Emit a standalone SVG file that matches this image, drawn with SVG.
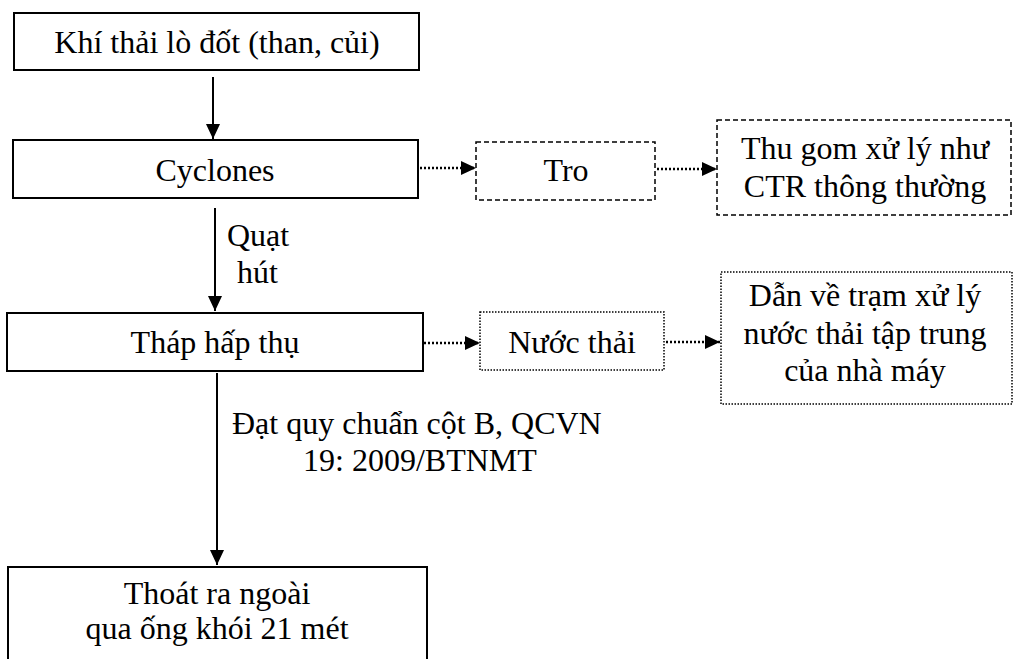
<svg xmlns="http://www.w3.org/2000/svg" width="1014" height="659" viewBox="0 0 1014 659">
<defs>
<marker id="ah" markerWidth="15" markerHeight="14" refX="15" refY="7" orient="auto" markerUnits="userSpaceOnUse">
<path d="M0,0 L15,7 L0,14 Z" fill="#000"/>
</marker>
<style>
text{font-family:"Liberation Serif","Times New Roman",serif;font-size:32px;fill:#000;text-anchor:middle}
.lbl{text-anchor:start}
.solid{fill:#fff;stroke:#000;stroke-width:2}
.dash{fill:#fff;stroke:#000;stroke-width:1.5;stroke-dasharray:5,3}
.dot{fill:#fff;stroke:#000;stroke-width:1.5;stroke-dasharray:1.5,1.5}
.c{stroke:#000;stroke-width:2;fill:none;marker-end:url(#ah)}
.cd{stroke:#000;stroke-width:2.5;fill:none;stroke-dasharray:2,2;marker-end:url(#ah)}
</style>
</defs>
<g id="connectors">
<line class="c" x1="213" y1="77" x2="213" y2="139"/>
<line class="c" x1="215" y1="208" x2="215" y2="311"/>
<line class="c" x1="217" y1="373" x2="217" y2="565"/>
<line class="cd" x1="420" y1="168" x2="476" y2="168"/>
<line class="cd" x1="657" y1="169" x2="717" y2="169"/>
<line class="cd" x1="424" y1="343" x2="480" y2="343"/>
<line class="cd" x1="666" y1="342" x2="720" y2="342"/>
<text class="lbl" x="227" y="246">Quạt</text>
<text class="lbl" x="237" y="283">hút</text>
<text class="lbl" x="232" y="434">Đạt quy chuẩn cột B, QCVN</text>
<text class="lbl" x="303" y="471">19: 2009/BTNMT</text>
</g>
<g id="n1">
<rect class="solid" x="14" y="13" width="405" height="57"/>
<text x="217" y="53">Khí thải lò đốt (than, củi)</text>
</g>
<g id="n2">
<rect class="solid" x="13" y="140" width="405" height="58"/>
<text x="215" y="181">Cyclones</text>
</g>
<g id="n3">
<rect class="dash" x="476" y="142" width="179" height="58"/>
<text x="566" y="181">Tro</text>
</g>
<g id="n4">
<rect class="dash" x="717" y="120" width="294" height="95"/>
<text x="865" y="159">Thu gom xử lý như</text>
<text x="865" y="197">CTR thông thường</text>
</g>
<g id="n5">
<rect class="solid" x="7" y="313" width="416" height="58"/>
<text x="215" y="353">Tháp hấp thụ</text>
</g>
<g id="n6">
<rect class="dot" x="480" y="312" width="184" height="58"/>
<text x="572" y="353">Nước thải</text>
</g>
<g id="n7">
<rect class="dot" x="721" y="272" width="291" height="132"/>
<text x="865" y="306">Dẫn về trạm xử lý</text>
<text x="865" y="344">nước thải tập trung</text>
<text x="865" y="381">của nhà máy</text>
</g>
<g id="n8">
<rect class="solid" x="8" y="567" width="419" height="100"/>
<text x="217" y="604">Thoát ra ngoài</text>
<text x="217" y="639">qua ống khói 21 mét</text>
</g>
</svg>
